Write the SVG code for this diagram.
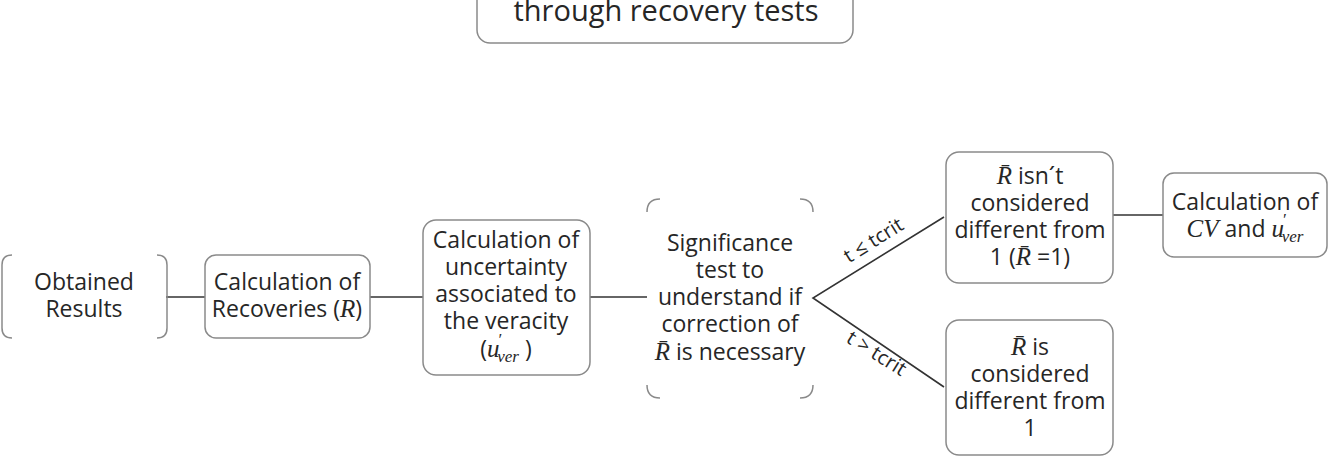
<svg xmlns="http://www.w3.org/2000/svg" width="1330" height="459" viewBox="0 0 1330 459">
<style>
.box{fill:#fff;stroke:#8a8a8a;stroke-width:1.5}
.edge{fill:none;stroke:#8a8a8a;stroke-width:1.5}
.t{font-family:"Open Sans","Liberation Sans",sans-serif;font-size:23px;fill:#262626;text-anchor:middle}
.m{font-family:"Liberation Serif",serif;font-style:italic;font-size:25px}
.sub{font-family:"Liberation Serif",serif;font-style:italic;font-size:17px}
.lbl{font-family:"Open Sans","Liberation Sans",sans-serif;font-size:20px;fill:#262626;text-anchor:middle}
.c{fill:none;stroke:#333;stroke-width:1.6}
</style>
<rect width="1330" height="459" fill="#fff"/>
<g id="connectors">
<line class="c" x1="166" y1="297" x2="205" y2="297"/>
<line class="c" x1="370" y1="297" x2="423" y2="297"/>
<line class="c" x1="590" y1="297" x2="647" y2="297"/>
<polyline class="c" points="944,217 813,298 944,387"/>
<line class="c" x1="1112" y1="215" x2="1163" y2="215"/>
<text class="lbl" transform="translate(877,246) rotate(-32)">t ≤ tcrit</text>
<text class="lbl" transform="translate(873,359) rotate(32)">t &gt; tcrit</text>
</g>
<g id="title">
<rect class="box" x="477" y="-20" width="376" height="63" rx="13"/>
<text class="t" x="666" y="21" style="font-size:29px">through recovery tests</text>
</g>
<g id="obtained">
<path class="edge" d="M12,255 Q2,255 2,265 L2,328 Q2,338 12,338 M157,255 Q167,255 167,265 L167,328 Q167,338 157,338"/>
<text class="t" x="84" y="290">Obtained</text>
<text class="t" x="84" y="317">Results</text>
</g>
<g id="recoveries">
<rect class="box" x="205" y="255" width="165" height="83" rx="11"/>
<text class="t" x="287" y="290">Calculation of</text>
<text class="t" x="287" y="317">Recoveries (<tspan class="m">R</tspan>)</text>
</g>
<g id="uncertainty">
<rect class="box" x="423" y="220" width="167" height="155" rx="13"/>
<text class="t" x="506" y="248">Calculation of</text>
<text class="t" x="506" y="275">uncertainty</text>
<text class="t" x="506" y="302">associated to</text>
<text class="t" x="506" y="329">the veracity</text>
<text class="t" x="506" y="357">(<tspan class="m">u</tspan><tspan class="sub" dx="-2" dy="-12">′</tspan><tspan class="sub" dx="-4" dy="17">ver</tspan><tspan dy="-5"> )</tspan></text>
</g>
<g id="significance">
<path class="edge" d="M647,212 Q647,199 660,199 M800,199 Q813,199 813,212 M647,385 Q647,398 660,398 M800,398 Q813,398 813,385"/>
<text class="t" x="730" y="251">Significance</text>
<text class="t" x="730" y="278">test to</text>
<text class="t" x="730" y="305">understand if</text>
<text class="t" x="730" y="332">correction of</text>
<text class="t" x="730" y="360"><tspan class="m">R̄</tspan> is necessary</text>
</g>
<g id="not-different">
<rect class="box" x="946" y="152" width="167" height="131" rx="13"/>
<text class="t" x="1030" y="184"><tspan class="m">R̄</tspan> isn´t</text>
<text class="t" x="1030" y="211">considered</text>
<text class="t" x="1030" y="238">different from</text>
<text class="t" x="1030" y="265">1 (<tspan class="m">R̄</tspan> =1)</text>
</g>
<g id="cv">
<rect class="box" x="1163" y="173" width="164" height="84" rx="11"/>
<text class="t" x="1245" y="210">Calculation of</text>
<text class="t" x="1245" y="237"><tspan class="m">CV</tspan> and <tspan class="m">u</tspan><tspan class="sub" dx="-2" dy="-12">′</tspan><tspan class="sub" dx="-4" dy="17">ver</tspan></text>
</g>
<g id="different">
<rect class="box" x="946" y="320" width="167" height="135" rx="13"/>
<text class="t" x="1030" y="355"><tspan class="m">R̄</tspan> is</text>
<text class="t" x="1030" y="382">considered</text>
<text class="t" x="1030" y="409">different from</text>
<text class="t" x="1030" y="436">1</text>
</g>
</svg>
